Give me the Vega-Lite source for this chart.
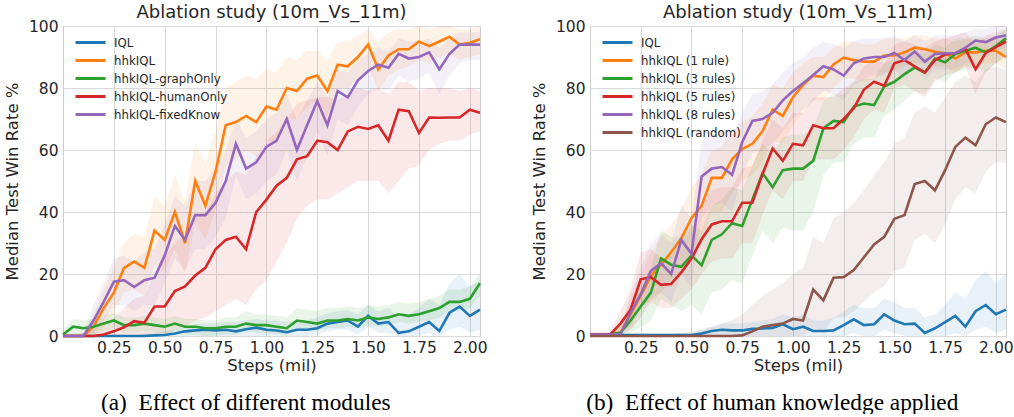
{
  "$schema": "https://vega.github.io/schema/vega-lite/v6.json",
  "background": "white",
  "padding": {"left": 3, "top": 3, "right": 0, "bottom": 0},
  "spacing": 42,
  "config": {
    "font": "DejaVu Sans",
    "view": {"stroke": "#cccccc", "strokeWidth": 1},
    "axis": {"gridColor": "#d9d9d9", "gridWidth": 1, "domain": false, "ticks": false, "labelFontSize": 15.5, "labelColor": "#262626", "titleFontSize": 16.5, "titleColor": "#262626", "titleFontWeight": "normal", "labelFont": "DejaVu Sans", "titleFont": "DejaVu Sans"},
    "title": {"fontSize": 18, "fontWeight": "normal", "color": "#262626", "font": "DejaVu Sans"}
  },
  "resolve": {"scale": {"color": "independent"}},
  "datasets": {
    "modules": [
      {"series":"IQL","step":0,"rate":0,"lo":0,"hi":0.5},
      {"series":"IQL","step":0.05,"rate":0,"lo":0,"hi":0.5},
      {"series":"IQL","step":0.1,"rate":0,"lo":0,"hi":0.5},
      {"series":"IQL","step":0.15,"rate":0,"lo":0,"hi":0.5},
      {"series":"IQL","step":0.2,"rate":0,"lo":0,"hi":0.5},
      {"series":"IQL","step":0.25,"rate":0,"lo":0,"hi":0.5},
      {"series":"IQL","step":0.3,"rate":0,"lo":0,"hi":0.5},
      {"series":"IQL","step":0.35,"rate":0,"lo":0,"hi":0.5},
      {"series":"IQL","step":0.4,"rate":0,"lo":0,"hi":1},
      {"series":"IQL","step":0.45,"rate":0.2,"lo":0,"hi":1},
      {"series":"IQL","step":0.5,"rate":0.3,"lo":0,"hi":1.5},
      {"series":"IQL","step":0.55,"rate":0.8,"lo":0,"hi":2},
      {"series":"IQL","step":0.6,"rate":1.5,"lo":0,"hi":3},
      {"series":"IQL","step":0.65,"rate":1.8,"lo":0,"hi":4},
      {"series":"IQL","step":0.7,"rate":2,"lo":0,"hi":4},
      {"series":"IQL","step":0.75,"rate":1.8,"lo":0,"hi":4},
      {"series":"IQL","step":0.8,"rate":2,"lo":0,"hi":4.5},
      {"series":"IQL","step":0.85,"rate":1.5,"lo":0,"hi":4.5},
      {"series":"IQL","step":0.9,"rate":2.2,"lo":0,"hi":5},
      {"series":"IQL","step":0.95,"rate":2.7,"lo":0,"hi":5.5},
      {"series":"IQL","step":1,"rate":2,"lo":0,"hi":5},
      {"series":"IQL","step":1.05,"rate":1.8,"lo":0,"hi":5},
      {"series":"IQL","step":1.1,"rate":1.2,"lo":0,"hi":4.5},
      {"series":"IQL","step":1.15,"rate":2,"lo":0,"hi":5},
      {"series":"IQL","step":1.2,"rate":2,"lo":0,"hi":5},
      {"series":"IQL","step":1.25,"rate":2.5,"lo":0.5,"hi":6},
      {"series":"IQL","step":1.3,"rate":4,"lo":1.5,"hi":7.5},
      {"series":"IQL","step":1.35,"rate":4.5,"lo":2,"hi":8},
      {"series":"IQL","step":1.4,"rate":5,"lo":2,"hi":8.5},
      {"series":"IQL","step":1.45,"rate":3,"lo":0.5,"hi":7},
      {"series":"IQL","step":1.5,"rate":6.5,"lo":3,"hi":10},
      {"series":"IQL","step":1.55,"rate":4,"lo":1,"hi":8},
      {"series":"IQL","step":1.6,"rate":4.5,"lo":1,"hi":9},
      {"series":"IQL","step":1.65,"rate":1,"lo":0,"hi":6},
      {"series":"IQL","step":1.7,"rate":1.5,"lo":0,"hi":7},
      {"series":"IQL","step":1.75,"rate":3,"lo":0,"hi":9},
      {"series":"IQL","step":1.8,"rate":4.5,"lo":1,"hi":12},
      {"series":"IQL","step":1.85,"rate":1.6,"lo":0,"hi":10},
      {"series":"IQL","step":1.9,"rate":7.5,"lo":2,"hi":17},
      {"series":"IQL","step":1.95,"rate":9.5,"lo":3,"hi":20},
      {"series":"IQL","step":2,"rate":6.5,"lo":1,"hi":16},
      {"series":"IQL","step":2.05,"rate":8.5,"lo":2,"hi":18},

      {"series":"hhkIQL","step":0,"rate":0,"lo":0,"hi":0.5},
      {"series":"hhkIQL","step":0.05,"rate":0,"lo":0,"hi":0.5},
      {"series":"hhkIQL","step":0.1,"rate":0,"lo":0,"hi":1},
      {"series":"hhkIQL","step":0.15,"rate":3,"lo":0,"hi":7},
      {"series":"hhkIQL","step":0.2,"rate":9,"lo":3,"hi":15},
      {"series":"hhkIQL","step":0.25,"rate":14,"lo":7,"hi":22},
      {"series":"hhkIQL","step":0.3,"rate":22,"lo":14,"hi":30},
      {"series":"hhkIQL","step":0.35,"rate":24,"lo":15,"hi":33},
      {"series":"hhkIQL","step":0.4,"rate":22,"lo":13,"hi":32},
      {"series":"hhkIQL","step":0.45,"rate":34,"lo":23,"hi":45},
      {"series":"hhkIQL","step":0.5,"rate":31,"lo":21,"hi":42},
      {"series":"hhkIQL","step":0.55,"rate":40,"lo":28,"hi":52},
      {"series":"hhkIQL","step":0.6,"rate":30,"lo":20,"hi":43},
      {"series":"hhkIQL","step":0.65,"rate":50,"lo":37,"hi":62},
      {"series":"hhkIQL","step":0.7,"rate":42,"lo":31,"hi":56},
      {"series":"hhkIQL","step":0.75,"rate":53,"lo":41,"hi":66},
      {"series":"hhkIQL","step":0.8,"rate":68,"lo":55,"hi":80},
      {"series":"hhkIQL","step":0.85,"rate":69,"lo":57,"hi":82},
      {"series":"hhkIQL","step":0.9,"rate":71,"lo":60,"hi":84},
      {"series":"hhkIQL","step":0.95,"rate":69,"lo":58,"hi":83},
      {"series":"hhkIQL","step":1,"rate":74,"lo":63,"hi":86},
      {"series":"hhkIQL","step":1.05,"rate":73,"lo":62,"hi":85},
      {"series":"hhkIQL","step":1.1,"rate":80,"lo":70,"hi":90},
      {"series":"hhkIQL","step":1.15,"rate":79,"lo":70,"hi":89},
      {"series":"hhkIQL","step":1.2,"rate":83,"lo":74,"hi":92},
      {"series":"hhkIQL","step":1.25,"rate":84,"lo":76,"hi":92},
      {"series":"hhkIQL","step":1.3,"rate":79,"lo":71,"hi":89},
      {"series":"hhkIQL","step":1.35,"rate":87.5,"lo":80,"hi":95},
      {"series":"hhkIQL","step":1.4,"rate":87,"lo":80,"hi":95},
      {"series":"hhkIQL","step":1.45,"rate":90,"lo":83,"hi":97},
      {"series":"hhkIQL","step":1.5,"rate":94,"lo":87,"hi":99},
      {"series":"hhkIQL","step":1.55,"rate":86,"lo":79,"hi":95},
      {"series":"hhkIQL","step":1.6,"rate":90.5,"lo":84,"hi":98},
      {"series":"hhkIQL","step":1.65,"rate":92.5,"lo":86,"hi":99},
      {"series":"hhkIQL","step":1.7,"rate":92.5,"lo":87,"hi":99},
      {"series":"hhkIQL","step":1.75,"rate":95,"lo":89,"hi":100},
      {"series":"hhkIQL","step":1.8,"rate":93.5,"lo":88,"hi":99},
      {"series":"hhkIQL","step":1.85,"rate":95,"lo":90,"hi":100},
      {"series":"hhkIQL","step":1.9,"rate":96.5,"lo":91,"hi":100},
      {"series":"hhkIQL","step":1.95,"rate":94,"lo":89,"hi":99},
      {"series":"hhkIQL","step":2,"rate":94.6,"lo":90,"hi":99},
      {"series":"hhkIQL","step":2.05,"rate":95.7,"lo":91,"hi":100},

      {"series":"hhkIQL-graphOnly","step":0,"rate":0.5,"lo":0,"hi":2},
      {"series":"hhkIQL-graphOnly","step":0.05,"rate":3,"lo":0.5,"hi":5.5},
      {"series":"hhkIQL-graphOnly","step":0.1,"rate":2.5,"lo":0,"hi":5},
      {"series":"hhkIQL-graphOnly","step":0.15,"rate":3,"lo":0.5,"hi":5.5},
      {"series":"hhkIQL-graphOnly","step":0.2,"rate":4,"lo":1.5,"hi":6.5},
      {"series":"hhkIQL-graphOnly","step":0.25,"rate":5,"lo":2.5,"hi":7.5},
      {"series":"hhkIQL-graphOnly","step":0.3,"rate":3.5,"lo":1,"hi":6},
      {"series":"hhkIQL-graphOnly","step":0.35,"rate":3.5,"lo":1,"hi":6},
      {"series":"hhkIQL-graphOnly","step":0.4,"rate":4,"lo":1.5,"hi":6.5},
      {"series":"hhkIQL-graphOnly","step":0.45,"rate":3.5,"lo":1,"hi":6},
      {"series":"hhkIQL-graphOnly","step":0.5,"rate":3,"lo":0.5,"hi":5.5},
      {"series":"hhkIQL-graphOnly","step":0.55,"rate":4,"lo":1.5,"hi":6.5},
      {"series":"hhkIQL-graphOnly","step":0.6,"rate":3,"lo":0.5,"hi":5.5},
      {"series":"hhkIQL-graphOnly","step":0.65,"rate":3,"lo":0.5,"hi":5.5},
      {"series":"hhkIQL-graphOnly","step":0.7,"rate":2.5,"lo":0,"hi":5},
      {"series":"hhkIQL-graphOnly","step":0.75,"rate":2.5,"lo":0,"hi":5},
      {"series":"hhkIQL-graphOnly","step":0.8,"rate":3,"lo":0.5,"hi":6},
      {"series":"hhkIQL-graphOnly","step":0.85,"rate":3,"lo":0.5,"hi":6},
      {"series":"hhkIQL-graphOnly","step":0.9,"rate":4,"lo":1.5,"hi":8},
      {"series":"hhkIQL-graphOnly","step":0.95,"rate":3.5,"lo":1,"hi":7},
      {"series":"hhkIQL-graphOnly","step":1,"rate":3.5,"lo":1,"hi":7},
      {"series":"hhkIQL-graphOnly","step":1.05,"rate":3,"lo":0.5,"hi":6.5},
      {"series":"hhkIQL-graphOnly","step":1.1,"rate":2.5,"lo":0,"hi":6},
      {"series":"hhkIQL-graphOnly","step":1.15,"rate":5,"lo":2.5,"hi":9},
      {"series":"hhkIQL-graphOnly","step":1.2,"rate":4.5,"lo":2,"hi":8.5},
      {"series":"hhkIQL-graphOnly","step":1.25,"rate":4,"lo":1.5,"hi":8},
      {"series":"hhkIQL-graphOnly","step":1.3,"rate":5,"lo":2.5,"hi":9},
      {"series":"hhkIQL-graphOnly","step":1.35,"rate":5,"lo":2.5,"hi":9},
      {"series":"hhkIQL-graphOnly","step":1.4,"rate":5.5,"lo":3,"hi":9.5},
      {"series":"hhkIQL-graphOnly","step":1.45,"rate":5,"lo":2.5,"hi":9},
      {"series":"hhkIQL-graphOnly","step":1.5,"rate":6,"lo":3.5,"hi":10},
      {"series":"hhkIQL-graphOnly","step":1.55,"rate":5.5,"lo":3,"hi":9.5},
      {"series":"hhkIQL-graphOnly","step":1.6,"rate":6,"lo":3.5,"hi":10},
      {"series":"hhkIQL-graphOnly","step":1.65,"rate":7,"lo":4.5,"hi":11},
      {"series":"hhkIQL-graphOnly","step":1.7,"rate":6.5,"lo":4,"hi":10.5},
      {"series":"hhkIQL-graphOnly","step":1.75,"rate":7,"lo":4.5,"hi":11},
      {"series":"hhkIQL-graphOnly","step":1.8,"rate":8,"lo":5,"hi":12},
      {"series":"hhkIQL-graphOnly","step":1.85,"rate":9,"lo":6,"hi":13},
      {"series":"hhkIQL-graphOnly","step":1.9,"rate":11,"lo":8,"hi":15},
      {"series":"hhkIQL-graphOnly","step":1.95,"rate":11,"lo":8,"hi":15},
      {"series":"hhkIQL-graphOnly","step":2,"rate":12,"lo":9,"hi":16},
      {"series":"hhkIQL-graphOnly","step":2.05,"rate":17,"lo":13,"hi":20},

      {"series":"hhkIQL-humanOnly","step":0,"rate":0,"lo":0,"hi":0.5},
      {"series":"hhkIQL-humanOnly","step":0.05,"rate":0,"lo":0,"hi":0.5},
      {"series":"hhkIQL-humanOnly","step":0.1,"rate":0,"lo":0,"hi":1},
      {"series":"hhkIQL-humanOnly","step":0.15,"rate":0,"lo":0,"hi":2},
      {"series":"hhkIQL-humanOnly","step":0.2,"rate":0.5,"lo":0,"hi":4},
      {"series":"hhkIQL-humanOnly","step":0.25,"rate":1.5,"lo":0,"hi":6},
      {"series":"hhkIQL-humanOnly","step":0.3,"rate":2.8,"lo":0,"hi":9},
      {"series":"hhkIQL-humanOnly","step":0.35,"rate":4.8,"lo":0,"hi":12},
      {"series":"hhkIQL-humanOnly","step":0.4,"rate":4.3,"lo":0,"hi":13},
      {"series":"hhkIQL-humanOnly","step":0.45,"rate":9.5,"lo":0,"hi":20},
      {"series":"hhkIQL-humanOnly","step":0.5,"rate":9.5,"lo":0,"hi":26},
      {"series":"hhkIQL-humanOnly","step":0.55,"rate":14.5,"lo":2,"hi":30},
      {"series":"hhkIQL-humanOnly","step":0.6,"rate":16,"lo":3,"hi":33},
      {"series":"hhkIQL-humanOnly","step":0.65,"rate":19.5,"lo":5,"hi":38},
      {"series":"hhkIQL-humanOnly","step":0.7,"rate":22,"lo":6,"hi":40},
      {"series":"hhkIQL-humanOnly","step":0.75,"rate":28,"lo":8,"hi":46},
      {"series":"hhkIQL-humanOnly","step":0.8,"rate":31,"lo":10,"hi":50},
      {"series":"hhkIQL-humanOnly","step":0.85,"rate":32,"lo":12,"hi":53},
      {"series":"hhkIQL-humanOnly","step":0.9,"rate":28,"lo":10,"hi":52},
      {"series":"hhkIQL-humanOnly","step":0.95,"rate":40,"lo":15,"hi":58},
      {"series":"hhkIQL-humanOnly","step":1,"rate":44,"lo":18,"hi":63},
      {"series":"hhkIQL-humanOnly","step":1.05,"rate":48.5,"lo":24,"hi":66},
      {"series":"hhkIQL-humanOnly","step":1.1,"rate":51,"lo":30,"hi":70},
      {"series":"hhkIQL-humanOnly","step":1.15,"rate":57,"lo":38,"hi":75},
      {"series":"hhkIQL-humanOnly","step":1.2,"rate":58,"lo":42,"hi":76},
      {"series":"hhkIQL-humanOnly","step":1.25,"rate":63,"lo":44,"hi":77},
      {"series":"hhkIQL-humanOnly","step":1.3,"rate":62.5,"lo":44,"hi":77},
      {"series":"hhkIQL-humanOnly","step":1.35,"rate":60,"lo":46,"hi":76},
      {"series":"hhkIQL-humanOnly","step":1.4,"rate":66,"lo":48,"hi":78},
      {"series":"hhkIQL-humanOnly","step":1.45,"rate":67.5,"lo":50,"hi":80},
      {"series":"hhkIQL-humanOnly","step":1.5,"rate":66.8,"lo":50,"hi":79},
      {"series":"hhkIQL-humanOnly","step":1.55,"rate":68,"lo":50,"hi":80},
      {"series":"hhkIQL-humanOnly","step":1.6,"rate":63,"lo":46,"hi":78},
      {"series":"hhkIQL-humanOnly","step":1.65,"rate":73,"lo":50,"hi":82},
      {"series":"hhkIQL-humanOnly","step":1.7,"rate":72.5,"lo":54,"hi":82},
      {"series":"hhkIQL-humanOnly","step":1.75,"rate":65.5,"lo":55,"hi":79},
      {"series":"hhkIQL-humanOnly","step":1.8,"rate":70.5,"lo":60,"hi":80},
      {"series":"hhkIQL-humanOnly","step":1.85,"rate":70.4,"lo":62,"hi":80},
      {"series":"hhkIQL-humanOnly","step":1.9,"rate":70.5,"lo":63,"hi":80},
      {"series":"hhkIQL-humanOnly","step":1.95,"rate":70.5,"lo":63,"hi":79},
      {"series":"hhkIQL-humanOnly","step":2,"rate":73,"lo":65,"hi":80},
      {"series":"hhkIQL-humanOnly","step":2.05,"rate":72,"lo":66,"hi":79},

      {"series":"hhkIQL-fixedKnow","step":0,"rate":0,"lo":0,"hi":0.5},
      {"series":"hhkIQL-fixedKnow","step":0.05,"rate":0,"lo":0,"hi":0.5},
      {"series":"hhkIQL-fixedKnow","step":0.1,"rate":0,"lo":0,"hi":1},
      {"series":"hhkIQL-fixedKnow","step":0.15,"rate":5,"lo":1,"hi":10},
      {"series":"hhkIQL-fixedKnow","step":0.2,"rate":11,"lo":5,"hi":17},
      {"series":"hhkIQL-fixedKnow","step":0.25,"rate":17.5,"lo":10,"hi":25},
      {"series":"hhkIQL-fixedKnow","step":0.3,"rate":18,"lo":10,"hi":26},
      {"series":"hhkIQL-fixedKnow","step":0.35,"rate":15.8,"lo":8,"hi":24},
      {"series":"hhkIQL-fixedKnow","step":0.4,"rate":18,"lo":10,"hi":27},
      {"series":"hhkIQL-fixedKnow","step":0.45,"rate":18.8,"lo":10,"hi":28},
      {"series":"hhkIQL-fixedKnow","step":0.5,"rate":26,"lo":17,"hi":36},
      {"series":"hhkIQL-fixedKnow","step":0.55,"rate":35.5,"lo":25,"hi":45},
      {"series":"hhkIQL-fixedKnow","step":0.6,"rate":31,"lo":21,"hi":42},
      {"series":"hhkIQL-fixedKnow","step":0.65,"rate":39,"lo":28,"hi":50},
      {"series":"hhkIQL-fixedKnow","step":0.7,"rate":39,"lo":28,"hi":50},
      {"series":"hhkIQL-fixedKnow","step":0.75,"rate":43,"lo":32,"hi":54},
      {"series":"hhkIQL-fixedKnow","step":0.8,"rate":50,"lo":38,"hi":60},
      {"series":"hhkIQL-fixedKnow","step":0.85,"rate":62,"lo":52,"hi":70},
      {"series":"hhkIQL-fixedKnow","step":0.9,"rate":54,"lo":44,"hi":64},
      {"series":"hhkIQL-fixedKnow","step":0.95,"rate":56,"lo":46,"hi":66},
      {"series":"hhkIQL-fixedKnow","step":1,"rate":61,"lo":50,"hi":70},
      {"series":"hhkIQL-fixedKnow","step":1.05,"rate":63,"lo":52,"hi":72},
      {"series":"hhkIQL-fixedKnow","step":1.1,"rate":70,"lo":60,"hi":78},
      {"series":"hhkIQL-fixedKnow","step":1.15,"rate":60,"lo":50,"hi":70},
      {"series":"hhkIQL-fixedKnow","step":1.2,"rate":68,"lo":58,"hi":76},
      {"series":"hhkIQL-fixedKnow","step":1.25,"rate":75.8,"lo":66,"hi":82},
      {"series":"hhkIQL-fixedKnow","step":1.3,"rate":68,"lo":58,"hi":77},
      {"series":"hhkIQL-fixedKnow","step":1.35,"rate":79,"lo":70,"hi":86},
      {"series":"hhkIQL-fixedKnow","step":1.4,"rate":77,"lo":68,"hi":85},
      {"series":"hhkIQL-fixedKnow","step":1.45,"rate":82.5,"lo":74,"hi":89},
      {"series":"hhkIQL-fixedKnow","step":1.5,"rate":85.5,"lo":78,"hi":91},
      {"series":"hhkIQL-fixedKnow","step":1.55,"rate":87.5,"lo":80,"hi":93},
      {"series":"hhkIQL-fixedKnow","step":1.6,"rate":86.5,"lo":79,"hi":92},
      {"series":"hhkIQL-fixedKnow","step":1.65,"rate":91,"lo":84,"hi":96},
      {"series":"hhkIQL-fixedKnow","step":1.7,"rate":89.5,"lo":82,"hi":95},
      {"series":"hhkIQL-fixedKnow","step":1.75,"rate":90,"lo":83,"hi":95},
      {"series":"hhkIQL-fixedKnow","step":1.8,"rate":91.5,"lo":85,"hi":96},
      {"series":"hhkIQL-fixedKnow","step":1.85,"rate":86,"lo":78,"hi":93},
      {"series":"hhkIQL-fixedKnow","step":1.9,"rate":91,"lo":84,"hi":96},
      {"series":"hhkIQL-fixedKnow","step":1.95,"rate":94,"lo":88,"hi":98},
      {"series":"hhkIQL-fixedKnow","step":2,"rate":94,"lo":89,"hi":98},
      {"series":"hhkIQL-fixedKnow","step":2.05,"rate":94,"lo":89,"hi":98}
    ],
    "knowledge": [
      {"series":"IQL","step":0,"rate":0.3,"lo":0,"hi":1},
      {"series":"IQL","step":0.05,"rate":0.3,"lo":0,"hi":1},
      {"series":"IQL","step":0.1,"rate":0.3,"lo":0,"hi":1},
      {"series":"IQL","step":0.15,"rate":0.3,"lo":0,"hi":1},
      {"series":"IQL","step":0.2,"rate":0.3,"lo":0,"hi":1},
      {"series":"IQL","step":0.25,"rate":0.3,"lo":0,"hi":1},
      {"series":"IQL","step":0.3,"rate":0.3,"lo":0,"hi":1},
      {"series":"IQL","step":0.35,"rate":0.3,"lo":0,"hi":1},
      {"series":"IQL","step":0.4,"rate":0.3,"lo":0,"hi":1},
      {"series":"IQL","step":0.45,"rate":0.3,"lo":0,"hi":1},
      {"series":"IQL","step":0.5,"rate":0.3,"lo":0,"hi":1},
      {"series":"IQL","step":0.55,"rate":0.8,"lo":0,"hi":2},
      {"series":"IQL","step":0.6,"rate":1.6,"lo":0,"hi":3},
      {"series":"IQL","step":0.65,"rate":2,"lo":0,"hi":4},
      {"series":"IQL","step":0.7,"rate":1.8,"lo":0,"hi":4},
      {"series":"IQL","step":0.75,"rate":1.8,"lo":0,"hi":4},
      {"series":"IQL","step":0.8,"rate":2.3,"lo":0,"hi":4.5},
      {"series":"IQL","step":0.85,"rate":2.4,"lo":0,"hi":5},
      {"series":"IQL","step":0.9,"rate":2.6,"lo":0,"hi":5.5},
      {"series":"IQL","step":0.95,"rate":3.8,"lo":0,"hi":7},
      {"series":"IQL","step":1,"rate":2.2,"lo":0,"hi":6},
      {"series":"IQL","step":1.05,"rate":3,"lo":0,"hi":7},
      {"series":"IQL","step":1.1,"rate":1.6,"lo":0,"hi":5},
      {"series":"IQL","step":1.15,"rate":1.6,"lo":0,"hi":5},
      {"series":"IQL","step":1.2,"rate":1.8,"lo":0,"hi":6},
      {"series":"IQL","step":1.25,"rate":3.5,"lo":0,"hi":8},
      {"series":"IQL","step":1.3,"rate":5.4,"lo":1,"hi":10},
      {"series":"IQL","step":1.35,"rate":3.5,"lo":0,"hi":9},
      {"series":"IQL","step":1.4,"rate":3.8,"lo":0,"hi":9},
      {"series":"IQL","step":1.45,"rate":7,"lo":2,"hi":12},
      {"series":"IQL","step":1.5,"rate":5,"lo":1,"hi":11},
      {"series":"IQL","step":1.55,"rate":3.8,"lo":0,"hi":9},
      {"series":"IQL","step":1.6,"rate":4,"lo":0,"hi":9},
      {"series":"IQL","step":1.65,"rate":1,"lo":0,"hi":6},
      {"series":"IQL","step":1.7,"rate":2.5,"lo":0,"hi":7},
      {"series":"IQL","step":1.75,"rate":4.5,"lo":0,"hi":10},
      {"series":"IQL","step":1.8,"rate":6.5,"lo":1,"hi":14},
      {"series":"IQL","step":1.85,"rate":3,"lo":0,"hi":12},
      {"series":"IQL","step":1.9,"rate":8,"lo":2,"hi":18},
      {"series":"IQL","step":1.95,"rate":10,"lo":3,"hi":21},
      {"series":"IQL","step":2,"rate":7,"lo":1,"hi":17},
      {"series":"IQL","step":2.05,"rate":8.5,"lo":2,"hi":20},

      {"series":"hhkIQL (1 rule)","step":0,"rate":0.5,"lo":0,"hi":1},
      {"series":"hhkIQL (1 rule)","step":0.05,"rate":0.5,"lo":0,"hi":1},
      {"series":"hhkIQL (1 rule)","step":0.1,"rate":0.5,"lo":0,"hi":1},
      {"series":"hhkIQL (1 rule)","step":0.15,"rate":1,"lo":0,"hi":3},
      {"series":"hhkIQL (1 rule)","step":0.2,"rate":7,"lo":2,"hi":12},
      {"series":"hhkIQL (1 rule)","step":0.25,"rate":13,"lo":6,"hi":20},
      {"series":"hhkIQL (1 rule)","step":0.3,"rate":19.2,"lo":11,"hi":27},
      {"series":"hhkIQL (1 rule)","step":0.35,"rate":23,"lo":14,"hi":32},
      {"series":"hhkIQL (1 rule)","step":0.4,"rate":27,"lo":18,"hi":36},
      {"series":"hhkIQL (1 rule)","step":0.45,"rate":31.5,"lo":21,"hi":41},
      {"series":"hhkIQL (1 rule)","step":0.5,"rate":38,"lo":27,"hi":48},
      {"series":"hhkIQL (1 rule)","step":0.55,"rate":42,"lo":31,"hi":52},
      {"series":"hhkIQL (1 rule)","step":0.6,"rate":51,"lo":40,"hi":60},
      {"series":"hhkIQL (1 rule)","step":0.65,"rate":51,"lo":40,"hi":61},
      {"series":"hhkIQL (1 rule)","step":0.7,"rate":57,"lo":46,"hi":66},
      {"series":"hhkIQL (1 rule)","step":0.75,"rate":60.3,"lo":50,"hi":69},
      {"series":"hhkIQL (1 rule)","step":0.8,"rate":62,"lo":52,"hi":71},
      {"series":"hhkIQL (1 rule)","step":0.85,"rate":66,"lo":56,"hi":75},
      {"series":"hhkIQL (1 rule)","step":0.9,"rate":73,"lo":63,"hi":81},
      {"series":"hhkIQL (1 rule)","step":0.95,"rate":71,"lo":62,"hi":80},
      {"series":"hhkIQL (1 rule)","step":1,"rate":77,"lo":68,"hi":85},
      {"series":"hhkIQL (1 rule)","step":1.05,"rate":81,"lo":72,"hi":88},
      {"series":"hhkIQL (1 rule)","step":1.1,"rate":84,"lo":76,"hi":90},
      {"series":"hhkIQL (1 rule)","step":1.15,"rate":83.5,"lo":76,"hi":90},
      {"series":"hhkIQL (1 rule)","step":1.2,"rate":87.6,"lo":80,"hi":93},
      {"series":"hhkIQL (1 rule)","step":1.25,"rate":89.8,"lo":83,"hi":95},
      {"series":"hhkIQL (1 rule)","step":1.3,"rate":89,"lo":83,"hi":95},
      {"series":"hhkIQL (1 rule)","step":1.35,"rate":88.5,"lo":82,"hi":94},
      {"series":"hhkIQL (1 rule)","step":1.4,"rate":88.5,"lo":83,"hi":94},
      {"series":"hhkIQL (1 rule)","step":1.45,"rate":90.5,"lo":85,"hi":96},
      {"series":"hhkIQL (1 rule)","step":1.5,"rate":90.5,"lo":86,"hi":96},
      {"series":"hhkIQL (1 rule)","step":1.55,"rate":91.5,"lo":87,"hi":96},
      {"series":"hhkIQL (1 rule)","step":1.6,"rate":93,"lo":88,"hi":97},
      {"series":"hhkIQL (1 rule)","step":1.65,"rate":92.5,"lo":88,"hi":97},
      {"series":"hhkIQL (1 rule)","step":1.7,"rate":91.7,"lo":87,"hi":96},
      {"series":"hhkIQL (1 rule)","step":1.75,"rate":91.2,"lo":87,"hi":96},
      {"series":"hhkIQL (1 rule)","step":1.8,"rate":89.5,"lo":85,"hi":95},
      {"series":"hhkIQL (1 rule)","step":1.85,"rate":91.5,"lo":87,"hi":96},
      {"series":"hhkIQL (1 rule)","step":1.9,"rate":91.5,"lo":87,"hi":96},
      {"series":"hhkIQL (1 rule)","step":1.95,"rate":92,"lo":88,"hi":96},
      {"series":"hhkIQL (1 rule)","step":2,"rate":92,"lo":88,"hi":96},
      {"series":"hhkIQL (1 rule)","step":2.05,"rate":90,"lo":86,"hi":95},

      {"series":"hhkIQL (3 rules)","step":0,"rate":0.5,"lo":0,"hi":1},
      {"series":"hhkIQL (3 rules)","step":0.05,"rate":0.5,"lo":0,"hi":1},
      {"series":"hhkIQL (3 rules)","step":0.1,"rate":0.5,"lo":0,"hi":1},
      {"series":"hhkIQL (3 rules)","step":0.15,"rate":1,"lo":0,"hi":3},
      {"series":"hhkIQL (3 rules)","step":0.2,"rate":5,"lo":1,"hi":10},
      {"series":"hhkIQL (3 rules)","step":0.25,"rate":9.5,"lo":3,"hi":16},
      {"series":"hhkIQL (3 rules)","step":0.3,"rate":14,"lo":5,"hi":22},
      {"series":"hhkIQL (3 rules)","step":0.35,"rate":25,"lo":12,"hi":34},
      {"series":"hhkIQL (3 rules)","step":0.4,"rate":23,"lo":10,"hi":32},
      {"series":"hhkIQL (3 rules)","step":0.45,"rate":22.3,"lo":8,"hi":32},
      {"series":"hhkIQL (3 rules)","step":0.5,"rate":26,"lo":10,"hi":36},
      {"series":"hhkIQL (3 rules)","step":0.55,"rate":22.8,"lo":7,"hi":34},
      {"series":"hhkIQL (3 rules)","step":0.6,"rate":31,"lo":14,"hi":42},
      {"series":"hhkIQL (3 rules)","step":0.65,"rate":32.8,"lo":15,"hi":44},
      {"series":"hhkIQL (3 rules)","step":0.7,"rate":36.4,"lo":18,"hi":48},
      {"series":"hhkIQL (3 rules)","step":0.75,"rate":35.5,"lo":17,"hi":47},
      {"series":"hhkIQL (3 rules)","step":0.8,"rate":44,"lo":26,"hi":55},
      {"series":"hhkIQL (3 rules)","step":0.85,"rate":52.5,"lo":34,"hi":62},
      {"series":"hhkIQL (3 rules)","step":0.9,"rate":48,"lo":30,"hi":59},
      {"series":"hhkIQL (3 rules)","step":0.95,"rate":53.5,"lo":35,"hi":64},
      {"series":"hhkIQL (3 rules)","step":1,"rate":54,"lo":34,"hi":65},
      {"series":"hhkIQL (3 rules)","step":1.05,"rate":54,"lo":34,"hi":65},
      {"series":"hhkIQL (3 rules)","step":1.1,"rate":56.5,"lo":40,"hi":67},
      {"series":"hhkIQL (3 rules)","step":1.15,"rate":67,"lo":52,"hi":76},
      {"series":"hhkIQL (3 rules)","step":1.2,"rate":69.4,"lo":56,"hi":78},
      {"series":"hhkIQL (3 rules)","step":1.25,"rate":69,"lo":56,"hi":78},
      {"series":"hhkIQL (3 rules)","step":1.3,"rate":74,"lo":62,"hi":82},
      {"series":"hhkIQL (3 rules)","step":1.35,"rate":75,"lo":64,"hi":83},
      {"series":"hhkIQL (3 rules)","step":1.4,"rate":74.5,"lo":64,"hi":83},
      {"series":"hhkIQL (3 rules)","step":1.45,"rate":80.5,"lo":71,"hi":88},
      {"series":"hhkIQL (3 rules)","step":1.5,"rate":82,"lo":73,"hi":89},
      {"series":"hhkIQL (3 rules)","step":1.55,"rate":84.5,"lo":76,"hi":91},
      {"series":"hhkIQL (3 rules)","step":1.6,"rate":86.6,"lo":79,"hi":92},
      {"series":"hhkIQL (3 rules)","step":1.65,"rate":85,"lo":78,"hi":91},
      {"series":"hhkIQL (3 rules)","step":1.7,"rate":89.5,"lo":83,"hi":94},
      {"series":"hhkIQL (3 rules)","step":1.75,"rate":88.3,"lo":82,"hi":93},
      {"series":"hhkIQL (3 rules)","step":1.8,"rate":91,"lo":85,"hi":96},
      {"series":"hhkIQL (3 rules)","step":1.85,"rate":92,"lo":86,"hi":96},
      {"series":"hhkIQL (3 rules)","step":1.9,"rate":93,"lo":87,"hi":97},
      {"series":"hhkIQL (3 rules)","step":1.95,"rate":91.5,"lo":85,"hi":96},
      {"series":"hhkIQL (3 rules)","step":2,"rate":93.5,"lo":88,"hi":97},
      {"series":"hhkIQL (3 rules)","step":2.05,"rate":96,"lo":90,"hi":99},

      {"series":"hhkIQL (5 rules)","step":0,"rate":0.5,"lo":0,"hi":1.5},
      {"series":"hhkIQL (5 rules)","step":0.05,"rate":0.5,"lo":0,"hi":1.5},
      {"series":"hhkIQL (5 rules)","step":0.1,"rate":0.5,"lo":0,"hi":1.5},
      {"series":"hhkIQL (5 rules)","step":0.15,"rate":4,"lo":1,"hi":8},
      {"series":"hhkIQL (5 rules)","step":0.2,"rate":8.5,"lo":3,"hi":15},
      {"series":"hhkIQL (5 rules)","step":0.25,"rate":18.3,"lo":10,"hi":27},
      {"series":"hhkIQL (5 rules)","step":0.3,"rate":19,"lo":11,"hi":28},
      {"series":"hhkIQL (5 rules)","step":0.35,"rate":16.5,"lo":9,"hi":25},
      {"series":"hhkIQL (5 rules)","step":0.4,"rate":16.8,"lo":9,"hi":26},
      {"series":"hhkIQL (5 rules)","step":0.45,"rate":20.5,"lo":12,"hi":30},
      {"series":"hhkIQL (5 rules)","step":0.5,"rate":25,"lo":15,"hi":35},
      {"series":"hhkIQL (5 rules)","step":0.55,"rate":31.2,"lo":20,"hi":42},
      {"series":"hhkIQL (5 rules)","step":0.6,"rate":36,"lo":24,"hi":47},
      {"series":"hhkIQL (5 rules)","step":0.65,"rate":37,"lo":25,"hi":48},
      {"series":"hhkIQL (5 rules)","step":0.7,"rate":37,"lo":25,"hi":48},
      {"series":"hhkIQL (5 rules)","step":0.75,"rate":43,"lo":30,"hi":54},
      {"series":"hhkIQL (5 rules)","step":0.8,"rate":43,"lo":30,"hi":55},
      {"series":"hhkIQL (5 rules)","step":0.85,"rate":52.2,"lo":39,"hi":63},
      {"series":"hhkIQL (5 rules)","step":0.9,"rate":60.5,"lo":47,"hi":70},
      {"series":"hhkIQL (5 rules)","step":0.95,"rate":56.5,"lo":44,"hi":67},
      {"series":"hhkIQL (5 rules)","step":1,"rate":62,"lo":50,"hi":72},
      {"series":"hhkIQL (5 rules)","step":1.05,"rate":61.5,"lo":50,"hi":72},
      {"series":"hhkIQL (5 rules)","step":1.1,"rate":68,"lo":57,"hi":77},
      {"series":"hhkIQL (5 rules)","step":1.15,"rate":67,"lo":57,"hi":77},
      {"series":"hhkIQL (5 rules)","step":1.2,"rate":67,"lo":57,"hi":77},
      {"series":"hhkIQL (5 rules)","step":1.25,"rate":70,"lo":60,"hi":80},
      {"series":"hhkIQL (5 rules)","step":1.3,"rate":73.5,"lo":64,"hi":82},
      {"series":"hhkIQL (5 rules)","step":1.35,"rate":79.5,"lo":70,"hi":87},
      {"series":"hhkIQL (5 rules)","step":1.4,"rate":82,"lo":73,"hi":89},
      {"series":"hhkIQL (5 rules)","step":1.45,"rate":80.7,"lo":72,"hi":88},
      {"series":"hhkIQL (5 rules)","step":1.5,"rate":88,"lo":80,"hi":94},
      {"series":"hhkIQL (5 rules)","step":1.55,"rate":89,"lo":81,"hi":95},
      {"series":"hhkIQL (5 rules)","step":1.6,"rate":87,"lo":79,"hi":94},
      {"series":"hhkIQL (5 rules)","step":1.65,"rate":85,"lo":77,"hi":93},
      {"series":"hhkIQL (5 rules)","step":1.7,"rate":89,"lo":82,"hi":95},
      {"series":"hhkIQL (5 rules)","step":1.75,"rate":90.8,"lo":84,"hi":96},
      {"series":"hhkIQL (5 rules)","step":1.8,"rate":91.3,"lo":85,"hi":97},
      {"series":"hhkIQL (5 rules)","step":1.85,"rate":92.6,"lo":87,"hi":98},
      {"series":"hhkIQL (5 rules)","step":1.9,"rate":86,"lo":78,"hi":94},
      {"series":"hhkIQL (5 rules)","step":1.95,"rate":91.3,"lo":85,"hi":97},
      {"series":"hhkIQL (5 rules)","step":2,"rate":93.2,"lo":88,"hi":98},
      {"series":"hhkIQL (5 rules)","step":2.05,"rate":95,"lo":90,"hi":99},

      {"series":"hhkIQL (8 rules)","step":0,"rate":0.5,"lo":0,"hi":1},
      {"series":"hhkIQL (8 rules)","step":0.05,"rate":0.5,"lo":0,"hi":1},
      {"series":"hhkIQL (8 rules)","step":0.1,"rate":0.5,"lo":0,"hi":1},
      {"series":"hhkIQL (8 rules)","step":0.15,"rate":0.5,"lo":0,"hi":2},
      {"series":"hhkIQL (8 rules)","step":0.2,"rate":7.5,"lo":2,"hi":14},
      {"series":"hhkIQL (8 rules)","step":0.25,"rate":13.5,"lo":6,"hi":22},
      {"series":"hhkIQL (8 rules)","step":0.3,"rate":21,"lo":12,"hi":30},
      {"series":"hhkIQL (8 rules)","step":0.35,"rate":23.5,"lo":14,"hi":33},
      {"series":"hhkIQL (8 rules)","step":0.4,"rate":20,"lo":11,"hi":30},
      {"series":"hhkIQL (8 rules)","step":0.45,"rate":31,"lo":20,"hi":42},
      {"series":"hhkIQL (8 rules)","step":0.5,"rate":26.5,"lo":16,"hi":38},
      {"series":"hhkIQL (8 rules)","step":0.55,"rate":51.5,"lo":38,"hi":63},
      {"series":"hhkIQL (8 rules)","step":0.6,"rate":54,"lo":42,"hi":65},
      {"series":"hhkIQL (8 rules)","step":0.65,"rate":54.5,"lo":43,"hi":66},
      {"series":"hhkIQL (8 rules)","step":0.7,"rate":52,"lo":40,"hi":64},
      {"series":"hhkIQL (8 rules)","step":0.75,"rate":62.5,"lo":52,"hi":72},
      {"series":"hhkIQL (8 rules)","step":0.8,"rate":69.4,"lo":59,"hi":78},
      {"series":"hhkIQL (8 rules)","step":0.85,"rate":70,"lo":60,"hi":79},
      {"series":"hhkIQL (8 rules)","step":0.9,"rate":72,"lo":62,"hi":81},
      {"series":"hhkIQL (8 rules)","step":0.95,"rate":76,"lo":66,"hi":85},
      {"series":"hhkIQL (8 rules)","step":1,"rate":79,"lo":70,"hi":88},
      {"series":"hhkIQL (8 rules)","step":1.05,"rate":81.5,"lo":73,"hi":90},
      {"series":"hhkIQL (8 rules)","step":1.1,"rate":84.2,"lo":76,"hi":93},
      {"series":"hhkIQL (8 rules)","step":1.15,"rate":87,"lo":79,"hi":95},
      {"series":"hhkIQL (8 rules)","step":1.2,"rate":86,"lo":78,"hi":94},
      {"series":"hhkIQL (8 rules)","step":1.25,"rate":84,"lo":76,"hi":93},
      {"series":"hhkIQL (8 rules)","step":1.3,"rate":88,"lo":81,"hi":95},
      {"series":"hhkIQL (8 rules)","step":1.35,"rate":89.5,"lo":83,"hi":96},
      {"series":"hhkIQL (8 rules)","step":1.4,"rate":90,"lo":84,"hi":96},
      {"series":"hhkIQL (8 rules)","step":1.45,"rate":90,"lo":84,"hi":96},
      {"series":"hhkIQL (8 rules)","step":1.5,"rate":91.3,"lo":86,"hi":97},
      {"series":"hhkIQL (8 rules)","step":1.55,"rate":89,"lo":83,"hi":95},
      {"series":"hhkIQL (8 rules)","step":1.6,"rate":91.8,"lo":87,"hi":97},
      {"series":"hhkIQL (8 rules)","step":1.65,"rate":88.5,"lo":83,"hi":95},
      {"series":"hhkIQL (8 rules)","step":1.7,"rate":91,"lo":86,"hi":97},
      {"series":"hhkIQL (8 rules)","step":1.75,"rate":91.2,"lo":86,"hi":97},
      {"series":"hhkIQL (8 rules)","step":1.8,"rate":91.2,"lo":86,"hi":97},
      {"series":"hhkIQL (8 rules)","step":1.85,"rate":93,"lo":88,"hi":98},
      {"series":"hhkIQL (8 rules)","step":1.9,"rate":95.3,"lo":91,"hi":99},
      {"series":"hhkIQL (8 rules)","step":1.95,"rate":94.8,"lo":90,"hi":99},
      {"series":"hhkIQL (8 rules)","step":2,"rate":96.3,"lo":92,"hi":100},
      {"series":"hhkIQL (8 rules)","step":2.05,"rate":97,"lo":93,"hi":100},

      {"series":"hhkIQL (random)","step":0,"rate":0,"lo":0,"hi":0.5},
      {"series":"hhkIQL (random)","step":0.05,"rate":0,"lo":0,"hi":0.5},
      {"series":"hhkIQL (random)","step":0.1,"rate":0,"lo":0,"hi":0.5},
      {"series":"hhkIQL (random)","step":0.15,"rate":0,"lo":0,"hi":0.5},
      {"series":"hhkIQL (random)","step":0.2,"rate":0,"lo":0,"hi":0.5},
      {"series":"hhkIQL (random)","step":0.25,"rate":0,"lo":0,"hi":0.5},
      {"series":"hhkIQL (random)","step":0.3,"rate":0,"lo":0,"hi":0.5},
      {"series":"hhkIQL (random)","step":0.35,"rate":0,"lo":0,"hi":0.5},
      {"series":"hhkIQL (random)","step":0.4,"rate":0,"lo":0,"hi":0.5},
      {"series":"hhkIQL (random)","step":0.45,"rate":0,"lo":0,"hi":1},
      {"series":"hhkIQL (random)","step":0.5,"rate":0,"lo":0,"hi":1.5},
      {"series":"hhkIQL (random)","step":0.55,"rate":0,"lo":0,"hi":2},
      {"series":"hhkIQL (random)","step":0.6,"rate":0,"lo":0,"hi":3},
      {"series":"hhkIQL (random)","step":0.65,"rate":0,"lo":0,"hi":4},
      {"series":"hhkIQL (random)","step":0.7,"rate":0,"lo":0,"hi":5},
      {"series":"hhkIQL (random)","step":0.75,"rate":0.2,"lo":0,"hi":7},
      {"series":"hhkIQL (random)","step":0.8,"rate":1.5,"lo":0,"hi":10},
      {"series":"hhkIQL (random)","step":0.85,"rate":3,"lo":0,"hi":13},
      {"series":"hhkIQL (random)","step":0.9,"rate":3.5,"lo":0,"hi":15},
      {"series":"hhkIQL (random)","step":0.95,"rate":4,"lo":0,"hi":17},
      {"series":"hhkIQL (random)","step":1,"rate":5.5,"lo":0,"hi":20},
      {"series":"hhkIQL (random)","step":1.05,"rate":5,"lo":0,"hi":22},
      {"series":"hhkIQL (random)","step":1.1,"rate":15,"lo":3,"hi":32},
      {"series":"hhkIQL (random)","step":1.15,"rate":11.5,"lo":1,"hi":30},
      {"series":"hhkIQL (random)","step":1.2,"rate":18.8,"lo":6,"hi":38},
      {"series":"hhkIQL (random)","step":1.25,"rate":19,"lo":6,"hi":40},
      {"series":"hhkIQL (random)","step":1.3,"rate":21.3,"lo":8,"hi":43},
      {"series":"hhkIQL (random)","step":1.35,"rate":25.4,"lo":11,"hi":47},
      {"series":"hhkIQL (random)","step":1.4,"rate":29.5,"lo":14,"hi":52},
      {"series":"hhkIQL (random)","step":1.45,"rate":32,"lo":16,"hi":56},
      {"series":"hhkIQL (random)","step":1.5,"rate":37.8,"lo":21,"hi":62},
      {"series":"hhkIQL (random)","step":1.55,"rate":39,"lo":22,"hi":64},
      {"series":"hhkIQL (random)","step":1.6,"rate":49,"lo":31,"hi":72},
      {"series":"hhkIQL (random)","step":1.65,"rate":50,"lo":33,"hi":74},
      {"series":"hhkIQL (random)","step":1.7,"rate":47,"lo":30,"hi":72},
      {"series":"hhkIQL (random)","step":1.75,"rate":53.5,"lo":36,"hi":77},
      {"series":"hhkIQL (random)","step":1.8,"rate":61,"lo":44,"hi":82},
      {"series":"hhkIQL (random)","step":1.85,"rate":64,"lo":48,"hi":84},
      {"series":"hhkIQL (random)","step":1.9,"rate":61.5,"lo":46,"hi":82},
      {"series":"hhkIQL (random)","step":1.95,"rate":68.3,"lo":53,"hi":86},
      {"series":"hhkIQL (random)","step":2,"rate":70.5,"lo":56,"hi":87},
      {"series":"hhkIQL (random)","step":2.05,"rate":69,"lo":56,"hi":86}
    ]
  },
  "hconcat": [
    {
      "title": {"text": "(a)\u00a0 Effect of different modules", "orient": "bottom", "anchor": "middle", "frame": "bounds", "font": "Liberation Serif", "fontSize": 23.3, "fontWeight": "normal", "color": "#000000", "offset": 17},
      "vconcat": [
        {
          "title": {"text": "Ablation study (10m_Vs_11m)", "offset": -3, "frame": "group"},
          "width": 417,
          "height": 310,
          "data": {"name": "modules"},
          "encoding": {
            "x": {"field": "step", "type": "quantitative", "scale": {"domain": [0, 2.05], "nice": false, "zero": false},
                  "axis": {"title": "Steps (mil)", "values": [0.25, 0.5, 0.75, 1, 1.25, 1.5, 1.75, 2], "format": ".2f", "labelPadding": 4, "titlePadding": 2}}
          },
          "layer": [
            {
              "mark": {"type": "area", "fillOpacity": 0.1, "interpolate": "linear"},
              "encoding": {
                "y": {"field": "lo", "type": "quantitative", "scale": {"domain": [0, 100], "nice": false},
                      "axis": {"title": "Median Test Win Rate %", "values": [0, 20, 40, 60, 80, 100], "labelPadding": 5, "titlePadding": 8}},
                "y2": {"field": "hi"},
                "color": {"field": "series", "type": "nominal",
                          "scale": {"domain": ["IQL", "hhkIQL", "hhkIQL-graphOnly", "hhkIQL-humanOnly", "hhkIQL-fixedKnow"], "range": ["#1f77b4", "#ff7f0e", "#2ca02c", "#d62728", "#9467bd"]}}
              }
            },
            {
              "mark": {"type": "line", "strokeWidth": 2.6, "interpolate": "linear"},
              "encoding": {
                "y": {"field": "rate", "type": "quantitative",
                      "axis": {"title": "Median Test Win Rate %", "values": [0, 20, 40, 60, 80, 100], "labelPadding": 5, "titlePadding": 8}},
                "color": {"field": "series", "type": "nominal",
                          "scale": {"domain": ["IQL", "hhkIQL", "hhkIQL-graphOnly", "hhkIQL-humanOnly", "hhkIQL-fixedKnow"], "range": ["#1f77b4", "#ff7f0e", "#2ca02c", "#d62728", "#9467bd"]},
                          "legend": {"orient": "none", "legendX": 11, "legendY": 10, "title": null, "symbolType": "M-1,0H5", "symbolSize": 100, "symbolStrokeWidth": 3, "symbolOpacity": 1, "labelOffset": 27, "rowPadding": 4, "labelFontSize": 11.8, "labelColor": "#262626", "labelFont": "DejaVu Sans", "padding": 0,
                                     "encode": {"symbols": {"update": {"opacity": {"value": 1}, "strokeOpacity": {"value": 1}, "fillOpacity": {"value": 0}}}}}}
              }
            }
          ]
        }
      ]
    },
    {
      "title": {"text": "(b)\u00a0 Effect of human knowledge applied", "orient": "bottom", "anchor": "middle", "frame": "bounds", "font": "Liberation Serif", "fontSize": 23.3, "fontWeight": "normal", "color": "#000000", "offset": 17},
      "vconcat": [
        {
          "title": {"text": "Ablation study (10m_Vs_11m)", "offset": -3, "frame": "group"},
          "width": 416,
          "height": 310,
          "data": {"name": "knowledge"},
          "encoding": {
            "x": {"field": "step", "type": "quantitative", "scale": {"domain": [0, 2.05], "nice": false, "zero": false},
                  "axis": {"title": "Steps (mil)", "values": [0.25, 0.5, 0.75, 1, 1.25, 1.5, 1.75, 2], "format": ".2f", "labelPadding": 4, "titlePadding": 2}}
          },
          "layer": [
            {
              "mark": {"type": "area", "fillOpacity": 0.1, "interpolate": "linear"},
              "encoding": {
                "y": {"field": "lo", "type": "quantitative", "scale": {"domain": [0, 100], "nice": false},
                      "axis": {"title": "Median Test Win Rate %", "values": [0, 20, 40, 60, 80, 100], "labelPadding": 5, "titlePadding": 8}},
                "y2": {"field": "hi"},
                "color": {"field": "series", "type": "nominal",
                          "scale": {"domain": ["IQL", "hhkIQL (1 rule)", "hhkIQL (3 rules)", "hhkIQL (5 rules)", "hhkIQL (8 rules)", "hhkIQL (random)"], "range": ["#1f77b4", "#ff7f0e", "#2ca02c", "#d62728", "#9467bd", "#8c564b"]}}
              }
            },
            {
              "mark": {"type": "line", "strokeWidth": 2.6, "interpolate": "linear"},
              "encoding": {
                "y": {"field": "rate", "type": "quantitative",
                      "axis": {"title": "Median Test Win Rate %", "values": [0, 20, 40, 60, 80, 100], "labelPadding": 5, "titlePadding": 8}},
                "color": {"field": "series", "type": "nominal",
                          "scale": {"domain": ["IQL", "hhkIQL (1 rule)", "hhkIQL (3 rules)", "hhkIQL (5 rules)", "hhkIQL (8 rules)", "hhkIQL (random)"], "range": ["#1f77b4", "#ff7f0e", "#2ca02c", "#d62728", "#9467bd", "#8c564b"]},
                          "legend": {"orient": "none", "legendX": 11, "legendY": 10, "title": null, "symbolType": "M-1,0H5", "symbolSize": 100, "symbolStrokeWidth": 3, "symbolOpacity": 1, "labelOffset": 27, "rowPadding": 4, "labelFontSize": 11.8, "labelColor": "#262626", "labelFont": "DejaVu Sans", "padding": 0,
                                     "encode": {"symbols": {"update": {"opacity": {"value": 1}, "strokeOpacity": {"value": 1}, "fillOpacity": {"value": 0}}}}}}
              }
            }
          ]
        }
      ]
    }
  ]
}
